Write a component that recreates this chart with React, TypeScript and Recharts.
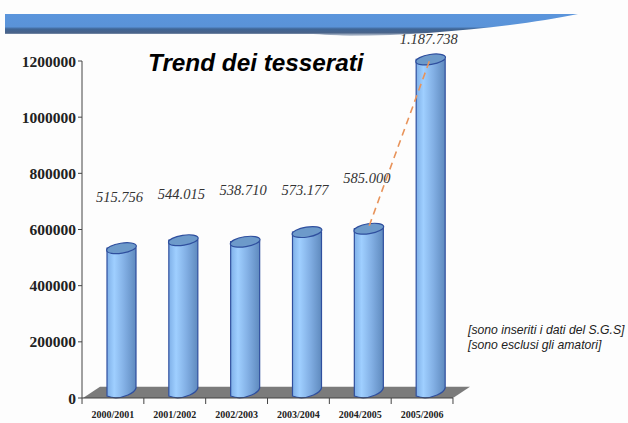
import { Bar, ComposedChart, LabelList, Line, ReferenceArea, XAxis, YAxis } from "recharts";

const seasons = ["2000/2001", "2001/2002", "2002/2003", "2003/2004", "2004/2005", "2005/2006"];
const members = [515756, 544015, 538710, 573177, 585000, 1187738];
const memberLabels = ["515.756", "544.015", "538.710", "573.177", "585.000", "1.187.738"];
const jump = [null, null, null, null, 585000, 1187738];
const yTicks = [0, 200000, 400000, 600000, 800000, 1000000, 1200000];
const notes = ["[sono inseriti i dati del S.G.S]", "[sono esclusi gli amatori]"];

// Height of each value label above the axis, in axis units
const labelHeights = [697000, 707000, 724000, 724000, 767000, 1259000];

const chartData = seasons.map((season, i) => ({
    season,
    members: members[i],
    jump: jump[i],
}));

const SERIF = "'Liberation Serif', serif";
const SANS = "'Liberation Sans', sans-serif";

// Cylinder drawn inside the band, pushed right to sit on the 3D floor
function Cylinder({ x, y, width, height }: any) {
    const left = x + 9;
    const right = left + width;
    const cx = (left + right) / 2;
    const rx = width / 2;
    const top = y - 5;
    const bottom = y + height;
    return (
        <g>
            <path
                d={`M${left} ${top} L${left} ${bottom - 2} Q${cx - 5} ${bottom + 2} ${right - 8} ${bottom - 3} Q${right - 1} ${bottom - 6} ${right} ${bottom - 10} L${right} ${top} Z`}
                fill="url(#cylinderBody)"
                stroke="#2f4f9e"
                strokeWidth={1.2}
            />
            <ellipse
                cx={cx}
                cy={top}
                rx={rx + 0.5}
                ry={5}
                transform={`rotate(-9 ${cx} ${top})`}
                fill="#6d9aca"
                stroke="#2f4f9e"
                strokeWidth={1.2}
            />
        </g>
    );
}

function Floor({ x, y, width, height }: any) {
    const skew = 17;
    const bottom = y + height;
    return (
        <path
            d={`M${x + 1} ${bottom} L${x + skew + 1} ${y} L${x + width + skew} ${y} L${x + width} ${bottom} Z`}
            fill="#7b7b7b"
        />
    );
}

// Season label under the band, with tick marks on the band edges
function SeasonTick({ x, y, payload, index }: any) {
    const half = 30.9;
    const axisY = y - 8;
    return (
        <g>
            <line x1={x - half} y1={axisY} x2={x - half} y2={axisY + 6} stroke="#444" />
            {index === seasons.length - 1 && (
                <line x1={x + half} y1={axisY} x2={x + half} y2={axisY + 6} stroke="#444" />
            )}
            <text
                x={x}
                y={y + 12}
                textAnchor="middle"
                fontFamily={SERIF}
                fontWeight="bold"
                fontSize={10}
                fill="#222"
            >
                {payload.value}
            </text>
        </g>
    );
}

function ValueLabel({ x, width, index, plotTop }: any) {
    const plotHeight = 337;
    const textY = plotTop + plotHeight * (1 - labelHeights[index] / 1200000);
    return (
        <text
            x={x + width / 2 + 7}
            y={textY}
            textAnchor="middle"
            fontFamily={SERIF}
            fontStyle="italic"
            fontSize={14.5}
            fill="#333"
        >
            {memberLabels[index]}
        </text>
    );
}

export default function App() {
    return (
        <div style={{ position: "absolute", left: 0, top: 0, width: 628, height: 423, background: "#fdfdfd", overflow: "hidden" }}>
            <svg width={628} height={50} style={{ position: "absolute", left: 0, top: 0 }}>
                <defs>
                    <linearGradient id="bannerFill" x1="0" y1="0" x2="0" y2="1">
                        <stop offset="0" stopColor="#5b95dc" />
                        <stop offset="0.58" stopColor="#5a93d8" />
                        <stop offset="0.68" stopColor="#3f6595" />
                        <stop offset="0.85" stopColor="#4a648a" />
                        <stop offset="1" stopColor="#d5dbe4" />
                    </linearGradient>
                </defs>
                <path
                    d="M5 14 H578 C520 26 430 35 350 36 C330 35 320 34 300 34 L5 34 Z"
                    fill="url(#bannerFill)"
                />
            </svg>
            <ComposedChart
                width={628}
                height={423}
                data={chartData}
                margin={{ top: 61, right: 175, bottom: 0, left: 0 }}
                barCategoryGap={16}
                style={{ position: "absolute", left: 0, top: 0 }}
            >
                <defs>
                    <linearGradient id="cylinderBody" x1="0" y1="0" x2="1" y2="0">
                        <stop offset="0" stopColor="#7fb0e8" />
                        <stop offset="0.25" stopColor="#9fcfff" />
                        <stop offset="0.6" stopColor="#82afe4" />
                        <stop offset="1" stopColor="#5f8abe" />
                    </linearGradient>
                </defs>
                <XAxis
                    dataKey="season"
                    interval={0}
                    height={25}
                    axisLine={{ stroke: "#444" }}
                    tickLine={false}
                    tick={<SeasonTick />}
                />
                <YAxis
                    width={82}
                    domain={[0, 1200000]}
                    ticks={yTicks}
                    interval={0}
                    axisLine={{ stroke: "#444" }}
                    tickLine={{ stroke: "#444" }}
                    tickSize={4}
                    tick={{ fontFamily: SERIF, fontWeight: "bold", fontSize: 15.5, fill: "#222" }}
                />
                <ReferenceArea
                    x1={seasons[0]}
                    x2={seasons[5]}
                    y1={0}
                    y2={40000}
                    shape={Floor}
                />
                <Bar dataKey="members" barSize={29} shape={<Cylinder />} isAnimationActive={false}>
                    <LabelList dataKey="members" content={<ValueLabel plotTop={61} />} />
                </Bar>
                <Line
                    dataKey="jump"
                    type="linear"
                    stroke="#e8935a"
                    strokeWidth={1.6}
                    strokeDasharray="7 5"
                    dot={false}
                    activeDot={false}
                    isAnimationActive={false}
                    transform="translate(9 -8)"
                />
            </ComposedChart>
            <svg width={628} height={423} style={{ position: "absolute", left: 0, top: 0, pointerEvents: "none" }}>
                <text x={148} y={71} fontFamily={SANS} fontWeight="bold" fontStyle="italic" fontSize={24.3} fill="#000">
                    Trend dei tesserati
                </text>
                {notes.map((note, i) => (
                    <text key={note} x={468} y={334 + i * 15} fontFamily={SANS} fontStyle="italic" fontSize={12.2} fill="#222">
                        {note}
                    </text>
                ))}
            </svg>
        </div>
    );
}
